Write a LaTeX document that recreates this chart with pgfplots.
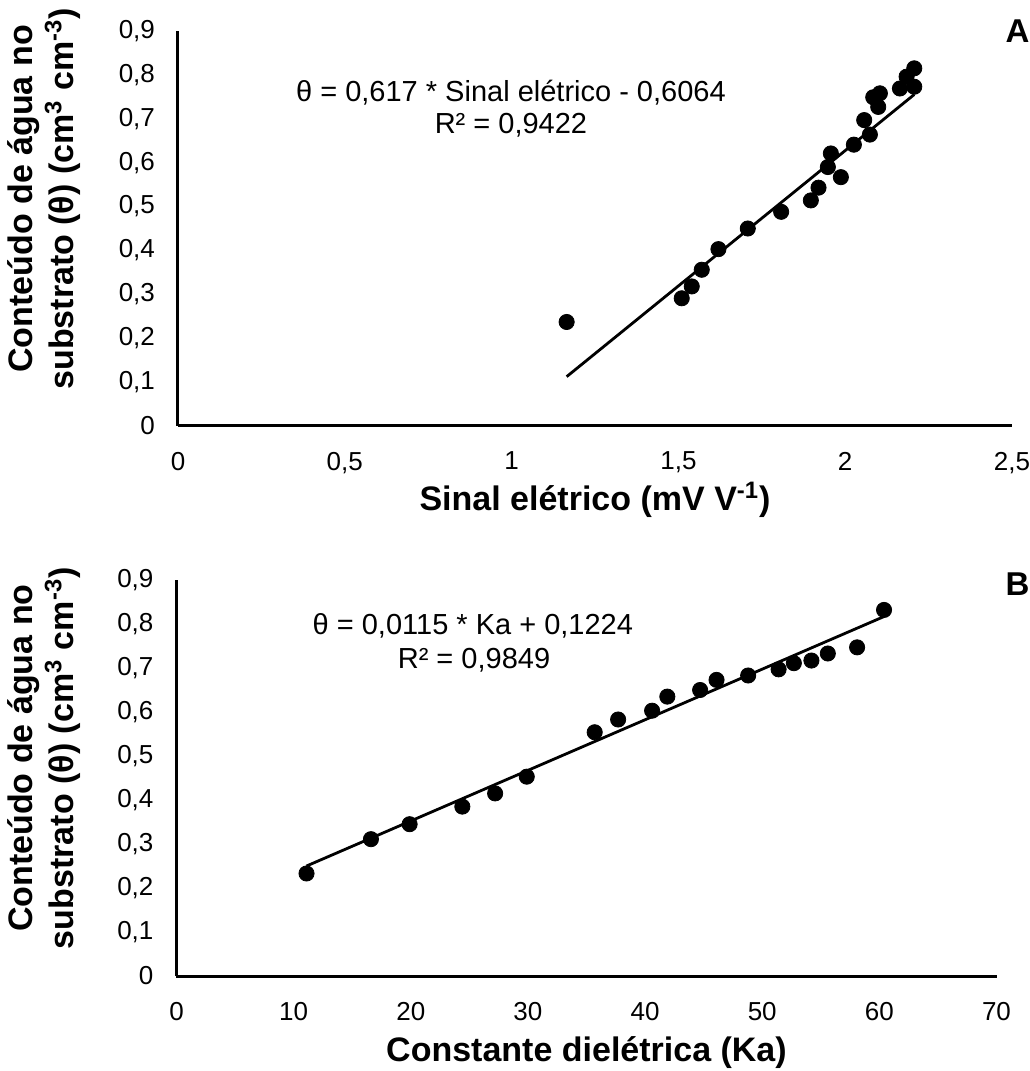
\documentclass[border=0pt]{standalone}
\usepackage{fontspec}
\setmainfont{Liberation Sans}
\usepackage{pgfplots}
\pgfplotsset{compat=1.18}
\pgfplotsset{mystyle/.style={
  scale only axis,
  axis x line*=bottom, axis y line*=left,
  axis line style={line width=1.5pt, black, -},
  major tick length=0pt,
  tick style={draw=none},
  ymin=0, ymax=0.9,
  ytick={0,0.1,0.2,0.3,0.4,0.5,0.6,0.7,0.8,0.9},
  /pgf/number format/use comma,
  /pgf/number format/assume math mode=true,
  ticklabel style={font=\fontsize{13}{15}\selectfont},
  yticklabel style={xshift=-8pt},
  xticklabel style={yshift=-9.5pt},
  xlabel style={font=\bfseries\fontsize{17}{20}\selectfont, at={(axis description cs:0.5,-0.187)}, anchor=center},
  ylabel style={font=\bfseries\fontsize{17}{20.5}\selectfont, align=center, at={(axis description cs:-0.16,0.575)}, anchor=center},
  clip=false,
}}
\begin{document}
\begin{tikzpicture}
\useasboundingbox (0pt,0pt) rectangle (514.5pt,535.5pt);
% Panel A
\begin{axis}[mystyle,
  at={(89pt,322.5pt)}, anchor=south west,
  width=417pt, height=197.5pt,
  xmin=0, xmax=2.5, xtick={0,0.5,1,1.5,2,2.5},
  xlabel={Sinal elétrico (mV V\textsuperscript{-1})},
  ylabel={Conteúdo de água no\\substrato (θ) (cm\textsuperscript{3} cm\textsuperscript{-3})},
]
\addplot[black, line width=1.4pt] coordinates {(1.165,0.1124) (2.207,0.7553)};
\addplot[only marks, mark=*, mark size=3.8pt, mark options={fill=black, draw=black}] coordinates {
(1.165,0.237) (1.510,0.291) (1.540,0.318) (1.570,0.356) (1.620,0.403)
(1.708,0.450) (1.808,0.488) (1.897,0.514) (1.920,0.543) (1.948,0.590)
(1.957,0.621) (1.987,0.567) (2.026,0.641) (2.057,0.697) (2.074,0.664)
(2.084,0.749) (2.104,0.758) (2.099,0.727) (2.164,0.769) (2.184,0.796)
(2.207,0.815) (2.207,0.773)
};
\node[font=\fontsize{14.5}{17}\selectfont, anchor=center] at (axis cs:0.998,0.760) {θ = 0,617 * Sinal elétrico - 0,6064};
\node[font=\fontsize{14.5}{17}\selectfont, anchor=center] at (axis cs:0.998,0.686) {R² = 0,9422};
\end{axis}
% Panel B
\begin{axis}[mystyle,
  at={(88.25pt,47.5pt)}, anchor=south west,
  width=410pt, height=198pt,
  xmin=0, xmax=70, xtick={0,10,20,30,40,50,60,70},
  xlabel={Constante dielétrica (Ka)},
  ylabel={Conteúdo de água no\\substrato (θ) (cm\textsuperscript{3} cm\textsuperscript{-3})},
  ylabel style={at={(axis description cs:-0.161,0.55)}},
  xlabel style={at={(axis description cs:0.5,-0.194)}},
]
\addplot[black, line width=1.4pt] coordinates {(11.1,0.250) (60.4,0.817)};
\addplot[only marks, mark=*, mark size=3.8pt, mark options={fill=black, draw=black}] coordinates {
(11.1,0.233) (16.6,0.311) (19.9,0.345) (24.4,0.385) (27.2,0.415)
(29.9,0.453) (35.7,0.554) (37.7,0.583) (40.6,0.603) (41.9,0.635)
(44.7,0.650) (46.1,0.673) (48.8,0.683) (51.4,0.697) (52.7,0.711)
(54.2,0.717) (55.6,0.733) (58.1,0.747) (60.4,0.832)
};
\node[font=\fontsize{14.5}{17}\selectfont, anchor=center] at (axis cs:25.3,0.795) {θ = 0,0115 * Ka + 0,1224};
\node[font=\fontsize{14.5}{17}\selectfont, anchor=center] at (axis cs:25.4,0.717) {R² = 0,9849};
\end{axis}
\node[font=\bfseries\fontsize{16.5}{19}\selectfont, anchor=center] at (508.75pt,520.1pt) {A};
\node[font=\bfseries\fontsize{16.5}{19}\selectfont, anchor=center] at (508.75pt,243.5pt) {B};
\end{tikzpicture}
\end{document}
